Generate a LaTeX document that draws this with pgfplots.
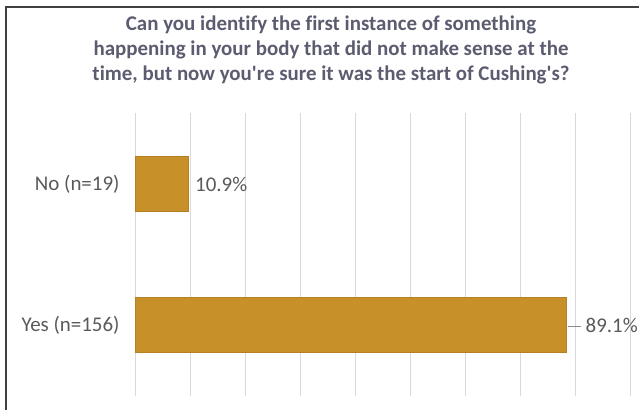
\documentclass[border=0pt]{standalone}
\usepackage{pgfplots}
\pgfplotsset{compat=1.18}
\usepackage{fontspec}
\setmainfont[Ligatures=NoCommon]{Carlito}
\definecolor{barc}{RGB}{200,144,40}
\definecolor{titlec}{RGB}{92,92,112}
\definecolor{txtc}{RGB}{89,89,89}
\definecolor{gridc}{RGB}{217,217,217}
\begin{document}
\begin{tikzpicture}[x=1bp,y=1bp]
\useasboundingbox (0,0) rectangle (639,409);
\draw[line width=1.2bp, black!75] (6,-2) -- (6,402) -- (645,402);
\node[align=center, text=titlec, font=\fontsize{21}{25.5}\selectfont\bfseries] at (331,359)
{Can you identify the first instance of something\\happening in your body that did not make sense at the\\time, but now you\textquotesingle re sure it was the start of Cushing\textquotesingle s?};
\begin{axis}[
  at={(135bp,13.5bp)}, anchor=south west,
  scale only axis, width=495bp, height=282bp,
  xmin=0, xmax=102.27, ymin=-0.5, ymax=1.5,
  xbar, bar width=0.39, bar shift=0pt,
  axis line style={draw=none},
  xtick={0,11.364,22.727,34.091,45.455,56.818,68.182,79.545,90.909,102.27},
  xticklabels={},
  xmajorgrids, major grid style={gridc, line width=0.8bp},
  major tick length=0pt,
  ytick={0,1}, yticklabels={Yes (n=156),No (n=19)},
  yticklabel style={text=txtc, font=\fontsize{21}{25}\selectfont, xshift=-12bp},
  clip=false,
]
\addplot[fill=barc, draw=barc!90!black, line width=0.3bp,
  nodes near coords={10.9\%},
  every node near coord/.append style={anchor=west, text=txtc, font=\fontsize{21}{25}\selectfont, xshift=4bp}]
  coordinates {(10.9,1)};
\addplot[fill=barc, draw=barc!90!black, line width=0.3bp,
  nodes near coords={\textcolor{txtc!70}{\rule[0.28em]{13bp}{0.6bp}}\hspace{5bp}89.1\%},
  every node near coord/.append style={anchor=west, text=txtc, font=\fontsize{21}{25}\selectfont, xshift=-2bp}]
  coordinates {(89.1,0)};
\end{axis}
\end{tikzpicture}
\end{document}
